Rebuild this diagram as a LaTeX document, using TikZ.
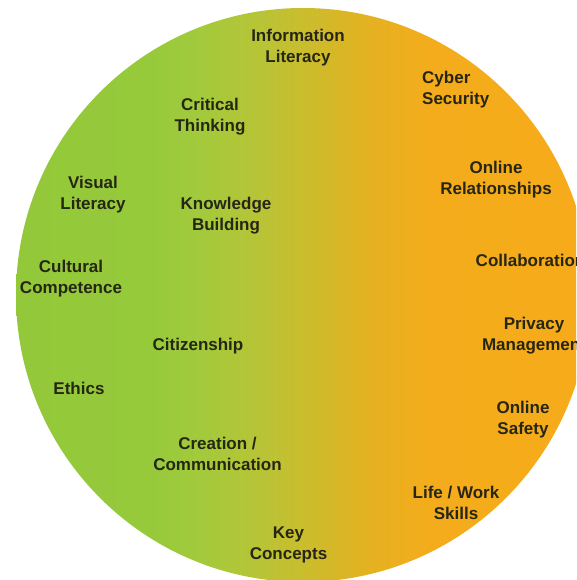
\documentclass[tikz,border=0pt]{standalone}
\usepackage{fontspec}
\setmainfont{Liberation Sans}
\definecolor{txt}{RGB}{38,38,20}
\definecolor{cA}{RGB}{147,200,58}
\definecolor{cB}{RGB}{150,202,59}
\definecolor{cC}{RGB}{162,202,60}
\definecolor{cD}{RGB}{184,196,54}
\definecolor{cE}{RGB}{200,190,46}
\definecolor{cF}{RGB}{216,182,38}
\definecolor{cG}{RGB}{232,176,32}
\definecolor{cH}{RGB}{244,172,28}
\definecolor{cI}{RGB}{247,171,26}
\pgfdeclarehorizontalshading{circshade}{100bp}{color(0bp)=(cA); color(25bp)=(cA); color(36.7bp)=(cB); color(41bp)=(cC); color(46.3bp)=(cD); color(49.7bp)=(cE); color(53.2bp)=(cF); color(56.7bp)=(cG); color(61.1bp)=(cH); color(75bp)=(cI); color(100bp)=(cI)}
\begin{document}
\begin{tikzpicture}[x=1pt,y=-1pt,
  lbl/.style={font=\fontsize{17}{21}\selectfont\bfseries, text=txt, align=center, inner sep=0pt}]
\useasboundingbox (0,0) rectangle (576,580);
\begin{scope}
\clip (0,0) rectangle (576,580);
\shade[shading=circshade] (303,295) circle[radius=287];
\end{scope}
\node[lbl] (info) at (298,47.5) {Information\\Literacy};
\node[lbl] (crit) at (210,117) {Critical\\Thinking};
\node[lbl, align=left, anchor=west] (cyber) at (422,89.5) {Cyber\\Security};
\node[lbl] (visual) at (93,195) {Visual\\Literacy};
\node[lbl] (know) at (226,215.5) {Knowledge\\Building};
\node[lbl] (onrel) at (496,180) {Online\\Relationships};
\node[lbl] (cult) at (71,279) {Cultural\\Competence};
\node[lbl] (collab) at (530.5,260) {Collaboration};
\node[lbl] (priv) at (534,335.5) {Privacy\\Management};
\node[lbl] (citiz) at (198,346) {Citizenship};
\node[lbl] (ethics) at (79,388) {Ethics};
\node[lbl] (onsafe) at (523,420) {Online\\Safety};
\node[lbl] (creat) at (217.5,453.5) {Creation /\\Communication};
\node[lbl] (life) at (456,502.5) {Life / Work\\Skills};
\node[lbl] (key) at (288.5,544.5) {Key\\Concepts};
\end{tikzpicture}
\end{document}
